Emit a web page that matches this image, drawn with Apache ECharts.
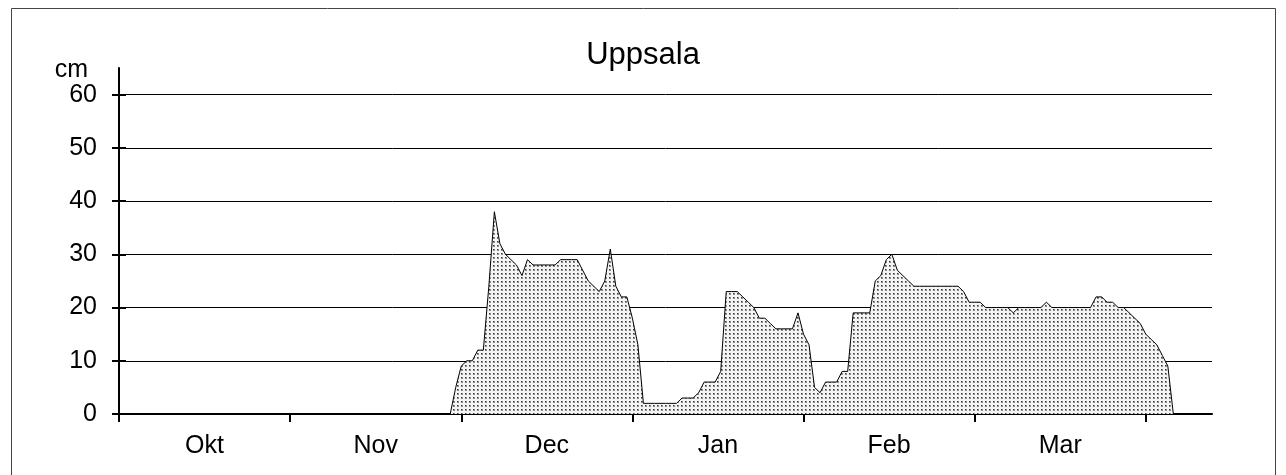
<!DOCTYPE html>
<html>
<head>
<meta charset="utf-8">
<script src="https://cdn.jsdelivr.net/npm/echarts@6/dist/echarts.min.js"></script>
<style>
  html, body { margin: 0; padding: 0; background: #fff; }
  #chart { width: 1286px; height: 475px; }
</style>
</head>
<body>
<div id="chart"></div>
<script>
const monthNames = ['Okt', 'Nov', 'Dec', 'Jan', 'Feb', 'Mar'];
const monthStarts = [0, 31, 62, 93, 124, 155, 186];
const monthMids = [15.5, 46.5, 77.5, 108.5, 139.5, 170.5];
const yTicks = [0, 10, 20, 30, 40, 50, 60];

// snow depth (cm), one value per day from 1 Oct
const snowDepth = [
  0, 0, 0, 0, 0, 0, 0, 0, 0, 0, 0, 0, 0, 0, 0, 0, 0, 0, 0, 0,
  0, 0, 0, 0, 0, 0, 0, 0, 0, 0, 0, 0, 0, 0, 0, 0, 0, 0, 0, 0,
  0, 0, 0, 0, 0, 0, 0, 0, 0, 0, 0, 0, 0, 0, 0, 0, 0, 0, 0, 0,
  0, 5, 9, 10, 10, 12, 12, 24, 38, 32, 30, 29, 28, 26, 29, 28, 28, 28, 28, 28,
  29, 29, 29, 29, 27, 25, 24, 23, 25, 31, 24, 22, 22, 18, 13, 2, 2, 2, 2, 2,
  2, 2, 3, 3, 3, 4, 6, 6, 6, 8, 23, 23, 23, 22, 21, 20, 18, 18, 17, 16,
  16, 16, 16, 19, 15, 13, 5, 4, 6, 6, 6, 8, 8, 19, 19, 19, 19, 25, 26, 29,
  30, 27, 26, 25, 24, 24, 24, 24, 24, 24, 24, 24, 24, 23, 21, 21, 21, 20, 20, 20,
  20, 20, 19, 20, 20, 20, 20, 20, 21, 20, 20, 20, 20, 20, 20, 20, 20, 22, 22, 21,
  21, 20, 20, 19, 18, 17, 15, 14, 13, 11, 9, 0, 0, 0, 0, 0, 0, 0, 0
];

function dotPattern() {
  const c = document.createElement('canvas');
  c.width = 4;
  c.height = 4;
  const ctx = c.getContext('2d');
  ctx.fillStyle = '#f4f4f4';
  ctx.fillRect(0, 0, 4, 4);
  ctx.fillStyle = '#8c8c8c';
  ctx.fillRect(1, 1, 2, 2);
  ctx.fillStyle = '#3c3c3c';
  ctx.fillRect(1, 1, 1, 1);
  return c;
}

const font = 'Liberation Sans, Arial, sans-serif';
const lastDay = snowDepth.length - 1;

const xBase = {
  type: 'value',
  min: 0,
  max: lastDay,
  splitLine: { show: false }
};
const yBase = {
  type: 'value',
  min: 0,
  max: 65,
  interval: 10
};

const option = {
  animation: false,
  backgroundColor: '#fff',
  title: {
    text: 'Uppsala',
    left: 'center',
    top: 35,
    textStyle: { fontFamily: font, fontSize: 31, fontWeight: 'normal', color: '#000' }
  },
  graphic: [{
    type: 'rect',
    shape: { x: 11.5, y: 8.5, width: 1264, height: 490 },
    style: { fill: null, stroke: '#444', lineWidth: 1 },
    silent: true
  }],
  grid: { left: 119, right: 74, top: 68, bottom: 61 },
  xAxis: [
    Object.assign({}, xBase, {
      axisLine: { show: true, lineStyle: { color: '#000', width: 2 } },
      axisTick: { show: true, customValues: monthStarts, length: 8, lineStyle: { color: '#000', width: 2 } },
      axisLabel: {
        customValues: monthMids,
        margin: 20,
        fontFamily: font,
        fontSize: 25,
        color: '#000',
        formatter: v => monthNames[Math.floor(v / 31)]
      }
    }),
    Object.assign({}, xBase, {
      axisLine: { show: false },
      axisTick: { show: true, inside: true, customValues: monthStarts, length: 8, lineStyle: { color: '#000', width: 2 } },
      axisLabel: { show: false }
    })
  ],
  yAxis: [
    Object.assign({}, yBase, {
      name: 'cm',
      nameLocation: 'end',
      nameGap: -2,
      nameTextStyle: { fontFamily: font, fontSize: 25, color: '#000', align: 'right', verticalAlign: 'middle', padding: [0, 31, 0, 0] },
      axisLine: { show: true, lineStyle: { color: '#000', width: 2 } },
      axisTick: { show: true, customValues: yTicks, length: 7, lineStyle: { color: '#000', width: 2 } },
      axisLabel: { customValues: yTicks, margin: 22, fontFamily: font, fontSize: 25, color: '#000' },
      splitLine: { show: true, lineStyle: { color: '#000', width: 1 } }
    }),
    Object.assign({}, yBase, {
      position: 'left',
      axisLine: { show: false },
      axisTick: { show: true, inside: true, customValues: yTicks, length: 7, lineStyle: { color: '#000', width: 2 } },
      axisLabel: { show: false },
      splitLine: { show: false }
    })
  ],
  series: [{
    type: 'line',
    xAxisIndex: 0,
    yAxisIndex: 0,
    data: snowDepth.map((v, i) => [i, v]),
    showSymbol: false,
    lineStyle: { color: '#000', width: 1 },
    areaStyle: { color: { image: dotPattern(), repeat: 'repeat' }, opacity: 1 },
    z: 1
  }]
};

const myChart = echarts.init(document.getElementById('chart'));
myChart.setOption(option);
</script>
</body>
</html>
